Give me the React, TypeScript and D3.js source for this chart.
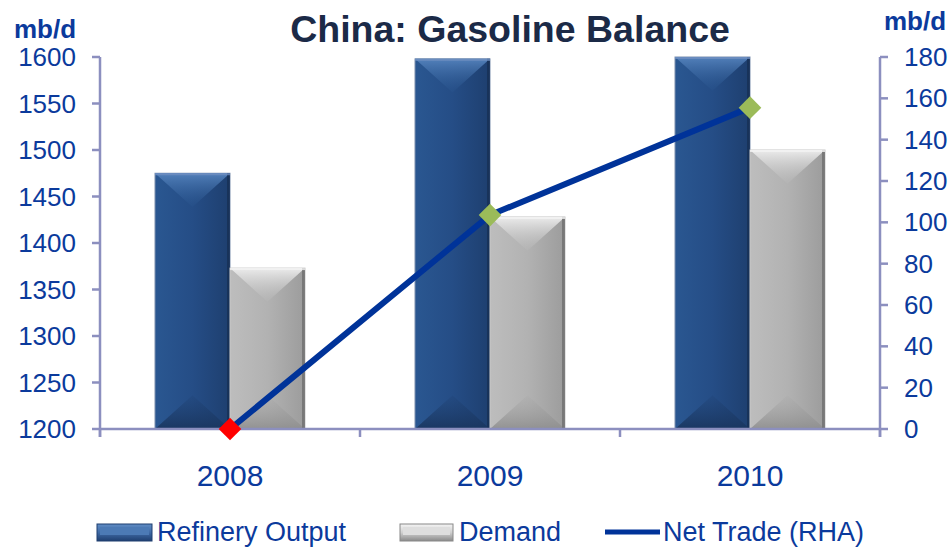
import React from "react";
import * as d3 from "d3";

const categories = ["2008", "2009", "2010"];
const refineryOutput = [1475, 1598, 1600];
const demand = [1373, 1428, 1500];
const netTrade = [0, 103.5, 155.5];
const leftTicks = [1200, 1250, 1300, 1350, 1400, 1450, 1500, 1550, 1600];
const rightTicks = [0, 20, 40, 60, 80, 100, 120, 140, 160, 180];
const seriesNames = ["Refinery Output", "Demand", "Net Trade (RHA)"];
const markerColors = ["#ff0000", "#9bbb59", "#9bbb59"];

const W = 952;
const H = 547;
const left = 100;
const right = 880;
const top = 57;
const bottom = 429;
const FONT = "Arial, 'Liberation Sans', sans-serif";
const TXT = "#0b3a9c";
const AXIS = "#8c8fbf";

function Bar({ x, y, w, h, kind }: { x: number; y: number; w: number; h: number; kind: "blue" | "gray" }) {
  const id = kind;
  const bev = Math.min(w * 0.45, h / 2);
  const cx = x + w / 2;
  return (
    <g>
      <rect x={x} y={y} width={w} height={h} fill={`url(#body-${id})`} stroke={kind === "blue" ? "#7d8fae" : "#c8c8c8"} strokeWidth={1} />
      <polygon points={`${x},${y} ${x + w},${y} ${cx},${y + bev}`} fill={`url(#top-${id})`} />
      <polygon points={`${x},${y + h} ${x + w},${y + h} ${cx},${y + h - bev}`} fill={`url(#bot-${id})`} />
      <rect x={x + w - 3} y={y} width={3} height={h} fill={kind === "blue" ? "#172f55" : "#6f6f6f"} opacity={0.8} />
      <rect x={x} y={y} width={w} height={2} fill={kind === "blue" ? "#6f8fc0" : "#f2f2f2"} opacity={0.8} />
    </g>
  );
}

export default function App() {
  const x = d3.scaleBand<string>().domain(categories).range([left, right]).paddingInner(0).paddingOuter(0);
  const groupW = 150;
  const xs = d3.scaleBand<string>().domain(["ref", "dem"]).range([0, groupW]).padding(0);
  const yL = d3.scaleLinear().domain([1200, 1600]).range([bottom, top]);
  const yR = d3.scaleLinear().domain([0, 180]).range([bottom, top]);
  const center = (c: string) => (x(c) as number) + x.bandwidth() / 2;
  const gx = (c: string) => center(c) - groupW / 2;

  const line = d3
    .line<number>()
    .x((_, i) => center(categories[i]))
    .y((d) => yR(d));

  const catEdges = [left, ...categories.map((c) => (x(c) as number) + x.bandwidth())];

  return (
    <svg width={W} height={H} style={{ position: "absolute", left: 0, top: 0, background: "#fff" }}>
      <defs>
        <linearGradient id="body-blue" x1="0" x2="1" y1="0" y2="0">
          <stop offset="0" stopColor="#2a5791" />
          <stop offset="0.5" stopColor="#254d86" />
          <stop offset="1" stopColor="#1e3f6f" />
        </linearGradient>
        <linearGradient id="top-blue" x1="0" x2="0" y1="0" y2="1">
          <stop offset="0" stopColor="#5583bd" stopOpacity={0.95} />
          <stop offset="1" stopColor="#2a5791" stopOpacity={0.2} />
        </linearGradient>
        <linearGradient id="bot-blue" x1="0" x2="0" y1="1" y2="0">
          <stop offset="0" stopColor="#1a365f" stopOpacity={0.95} />
          <stop offset="1" stopColor="#1e3f6f" stopOpacity={0.2} />
        </linearGradient>
        <linearGradient id="body-gray" x1="0" x2="1" y1="0" y2="0">
          <stop offset="0" stopColor="#bdbdbd" />
          <stop offset="0.5" stopColor="#b2b2b2" />
          <stop offset="1" stopColor="#9c9c9c" />
        </linearGradient>
        <linearGradient id="top-gray" x1="0" x2="0" y1="0" y2="1">
          <stop offset="0" stopColor="#ececec" stopOpacity={1} />
          <stop offset="1" stopColor="#b8b8b8" stopOpacity={0.3} />
        </linearGradient>
        <linearGradient id="bot-gray" x1="0" x2="0" y1="1" y2="0">
          <stop offset="0" stopColor="#8e8e8e" stopOpacity={0.9} />
          <stop offset="1" stopColor="#a8a8a8" stopOpacity={0.2} />
        </linearGradient>
        <linearGradient id="leg-blue" x1="0" x2="0" y1="0" y2="1">
          <stop offset="0" stopColor="#5f8cc4" />
          <stop offset="0.5" stopColor="#3f6aa6" />
          <stop offset="1" stopColor="#1f3f70" />
        </linearGradient>
        <linearGradient id="leg-gray" x1="0" x2="0" y1="0" y2="1">
          <stop offset="0" stopColor="#f4f4f4" />
          <stop offset="0.5" stopColor="#d0d0d0" />
          <stop offset="1" stopColor="#8a8a8a" />
        </linearGradient>
      </defs>

      {/* Title */}
      <text x={510} y={42} textAnchor="middle" fontFamily={FONT} fontWeight="bold" fontSize={37.5} fill="#1b2a47">
        China: Gasoline Balance
      </text>
      <text x={14} y={38} fontFamily={FONT} fontWeight="bold" fontSize={26} fill={TXT}>
        mb/d
      </text>
      <text x={884} y={30} fontFamily={FONT} fontWeight="bold" fontSize={26} fill={TXT}>
        mb/d
      </text>

      {/* Bars */}
      {categories.map((c, i) => (
        <g key={c}>
          <Bar
            x={gx(c) + (xs("ref") as number)}
            y={yL(refineryOutput[i])}
            w={xs.bandwidth()}
            h={bottom - yL(refineryOutput[i])}
            kind="blue"
          />
          <Bar
            x={gx(c) + (xs("dem") as number)}
            y={yL(demand[i])}
            w={xs.bandwidth()}
            h={bottom - yL(demand[i])}
            kind="gray"
          />
        </g>
      ))}

      {/* Axes */}
      <line x1={left} x2={left} y1={top} y2={437} stroke={AXIS} strokeWidth={2.5} />
      <line x1={right} x2={right} y1={top} y2={437} stroke={AXIS} strokeWidth={2.5} />
      <line x1={left} x2={right} y1={bottom} y2={bottom} stroke={AXIS} strokeWidth={2.5} />
      {catEdges.map((e, i) => (
        <line key={i} x1={e} x2={e} y1={bottom} y2={437} stroke={AXIS} strokeWidth={2.5} />
      ))}
      {leftTicks.map((t) => (
        <g key={t}>
          <line x1={left - 8} x2={left} y1={yL(t)} y2={yL(t)} stroke={AXIS} strokeWidth={2.5} />
          <text x={76} y={yL(t) + 9} textAnchor="end" fontFamily={FONT} fontSize={26} fill={TXT}>
            {t}
          </text>
        </g>
      ))}
      {rightTicks.map((t) => (
        <g key={t}>
          <line x1={right} x2={right + 8} y1={yR(t)} y2={yR(t)} stroke={AXIS} strokeWidth={2.5} />
          <text x={904} y={yR(t) + 9} textAnchor="start" fontFamily={FONT} fontSize={26} fill={TXT}>
            {t}
          </text>
        </g>
      ))}
      {categories.map((c) => (
        <text key={c} x={center(c)} y={486} textAnchor="middle" fontFamily={FONT} fontSize={30} fill={TXT}>
          {c}
        </text>
      ))}

      {/* Net trade line */}
      <path d={line(netTrade) || ""} fill="none" stroke="#003399" strokeWidth={6} />
      {netTrade.map((v, i) => (
        <rect
          key={i}
          x={-8}
          y={-8}
          width={16}
          height={16}
          fill={markerColors[i]}
          transform={`translate(${center(categories[i])},${yR(v)}) rotate(45)`}
        />
      ))}

      {/* Legend */}
      <g>
        <rect x={97} y={524} width={55} height={17} fill="url(#leg-blue)" stroke="#1f3f70" strokeWidth={1} />
        <rect x={100} y={527} width={49} height={8} fill="#4c7ab5" />
        <text x={157} y={541} fontFamily={FONT} fontSize={27} fill={TXT}>
          {seriesNames[0]}
        </text>
        <rect x={400} y={524} width={53} height={17} fill="url(#leg-gray)" stroke="#888" strokeWidth={1} />
        <rect x={403} y={527} width={47} height={8} fill="#dedede" />
        <text x={459} y={541} fontFamily={FONT} fontSize={27} fill={TXT}>
          {seriesNames[1]}
        </text>
        <line x1={605} x2={660} y1={532} y2={532} stroke="#003399" strokeWidth={5} />
        <text x={663} y={541} fontFamily={FONT} fontSize={27} fill={TXT}>
          {seriesNames[2]}
        </text>
      </g>
    </svg>
  );
}
